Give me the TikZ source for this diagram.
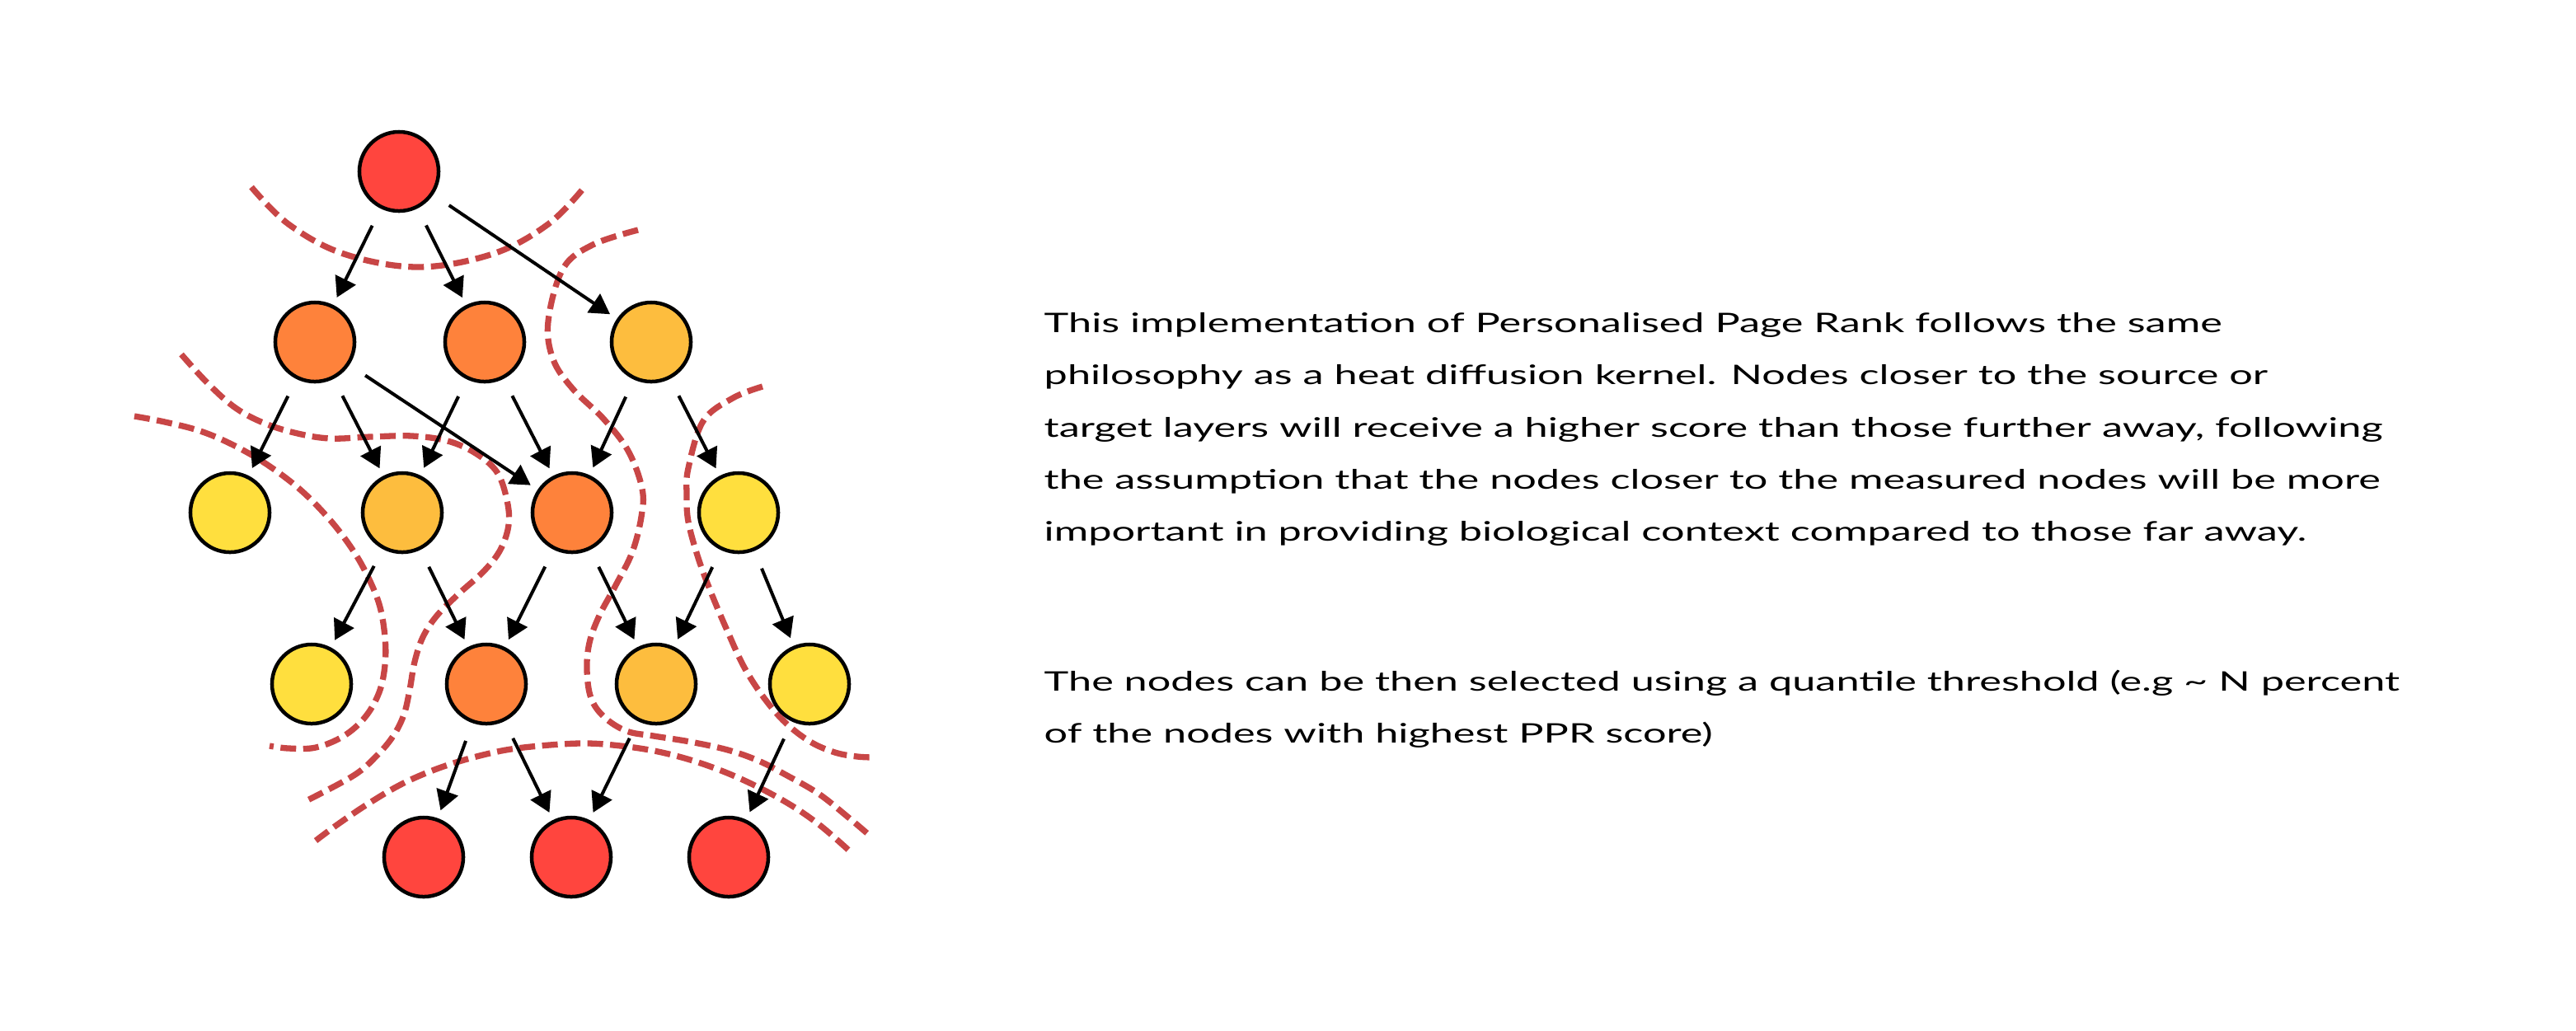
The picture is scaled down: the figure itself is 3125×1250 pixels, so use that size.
\documentclass[tikz,border=0pt]{standalone}
\usepackage{fontspec}
\setmainfont{Lato}
\usetikzlibrary{arrows.meta}
\definecolor{cred}{HTML}{FF453E}
\definecolor{corange}{HTML}{FE823B}
\definecolor{clorange}{HTML}{FDBD3E}
\definecolor{cyellow}{HTML}{FFDF3E}
\definecolor{cdash}{HTML}{C84646}
\newlength\Lw
\newcommand\txtfont{\fontsize{9.3pt}{12pt}\selectfont}
\begin{document}
\settowidth\Lw{\txtfont This implementation of Personalised Page Rank follows the same}%
\pgfmathsetmacro\sxx{14.28cm/\Lw}%
\begin{tikzpicture}[x=0.01cm,y=-0.01cm,
  ball/.style={circle,draw=black,line width=0.045cm,minimum size=0.96cm,inner sep=0},
  redball/.style={ball,fill=cred},
  orball/.style={ball,fill=corange},
  lorball/.style={ball,fill=clorange},
  yelball/.style={ball,fill=cyellow},
  arr/.style={-{Triangle[length=0.24cm,width=0.27cm]},line width=0.04cm,shorten <=0.23cm,shorten >=0.1cm},
  zone/.style={draw=cdash,line width=0.073cm,dash pattern=on 0.19cm off 0.085cm},
  txt/.style={anchor=base west,inner sep=0,font=\txtfont,text=black}]
\useasboundingbox (0,0) rectangle (3125,1250);
% dashed zone boundaries
\draw[zone] plot[smooth,tension=0.6] coordinates {(305,227) (350,272) (417,308) (507,324) (598,308) (665,272) (709,227)};
\draw[zone] plot[smooth,tension=0.6] coordinates {(220,430) (250,463) (283,493) (317,512) (357,525) (400,532) (450,530) (500,529) (543,535) (577,550) (603,573) (615,607) (617,637) (607,667) (587,693) (557,720) (530,747) (513,773) (503,803) (497,837) (490,867) (477,893) (457,917) (429,941) (371,972)};
\draw[zone] plot[smooth,tension=0.6] coordinates {(163,505) (200,512) (243,523) (283,540) (323,563) (363,593) (397,627) (423,660) (443,693) (460,733) (467,773) (467,807) (460,840) (443,870) (417,893) (383,907) (350,908) (327,905)};
\draw[zone] plot[smooth,tension=0.6] coordinates {(774,279) (719,297) (683,326) (665,390) (671,436) (695,472) (732,508) (762,547) (779,593) (778,627) (767,670) (747,710) (727,747) (715,780) (712,813) (717,847) (733,870) (760,887) (793,893) (837,900) (883,910) (920,923) (953,940) (993,963) (1027,990) (1053,1012)};
\draw[zone] plot[smooth,tension=0.6] coordinates {(925,469) (889,483) (853,511) (835,568) (833,600) (835,633) (847,677) (863,720) (883,767) (903,810) (927,847) (953,877) (983,900) (1013,913) (1040,918) (1062,919)};
\draw[zone] plot[smooth,tension=0.6] coordinates {(383,1020) (410,1000) (447,975) (490,950) (538,930) (590,915) (635,907) (703,902) (753,905) (803,913) (853,927) (903,947) (953,973) (993,1000) (1030,1032)};
% nodes
\node[redball] (r0) at (484,208) {};
\node[orball] (a1) at (382,415) {};
\node[orball] (a2) at (588,415) {};
\node[lorball] (a3) at (790,415) {};
\node[yelball] (b1) at (279,622) {};
\node[lorball] (b2) at (488,622) {};
\node[orball] (b3) at (694,622) {};
\node[yelball] (b4) at (896,622) {};
\node[yelball] (c1) at (378,830) {};
\node[orball] (c2) at (590,830) {};
\node[lorball] (c3) at (796,830) {};
\node[yelball] (c4) at (982,830) {};
\node[redball] (d1) at (514,1040) {};
\node[redball] (d2) at (693,1040) {};
\node[redball] (d3) at (884,1040) {};
% edges
\draw[arr] (r0) -- (a1);
\draw[arr] (r0) -- (a2);
\draw[arr] (r0) -- (a3);
\draw[arr] (a1) -- (b1);
\draw[arr] (a1) -- (b2);
\draw[arr] (a1) -- (b3);
\draw[arr] (a2) -- (b2);
\draw[arr] (a2) -- (b3);
\draw[arr] (a3) -- (b3);
\draw[arr] (a3) -- (b4);
\draw[arr] (b2) -- (c1);
\draw[arr] (b2) -- (c2);
\draw[arr] (b3) -- (c2);
\draw[arr] (b3) -- (c3);
\draw[arr] (b4) -- (c3);
\draw[arr] (b4) -- (c4);
\draw[arr] (c2) -- (d1);
\draw[arr] (c2) -- (d2);
\draw[arr] (c3) -- (d2);
\draw[arr] (c4) -- (d3);
% text
\node[txt] (t1) at (1266,403) {\scalebox{\sxx}[1]{This implementation of Personalised Page Rank follows the same}};
\node[txt] (t2) at (1266,466.5) {\scalebox{\sxx}[1]{philosophy as a heat diffusion kernel. Nodes closer to the source or}};
\node[txt] (t3) at (1266,530) {\scalebox{\sxx}[1]{target layers will receive a higher score than those further away, following}};
\node[txt] (t4) at (1266,593) {\scalebox{\sxx}[1]{the assumption that the nodes closer to the measured nodes will be more}};
\node[txt] (t5) at (1266,656.5) {\scalebox{\sxx}[1]{important in providing biological context compared to those far away.}};
\node[txt] (t6) at (1266,838) {\scalebox{\sxx}[1]{The nodes can be then selected using a quantile threshold (e.g \textasciitilde{} N percent}};
\node[txt] (t7) at (1266,901) {\scalebox{\sxx}[1]{of the nodes with highest PPR score)}};
\end{tikzpicture}
\end{document}
